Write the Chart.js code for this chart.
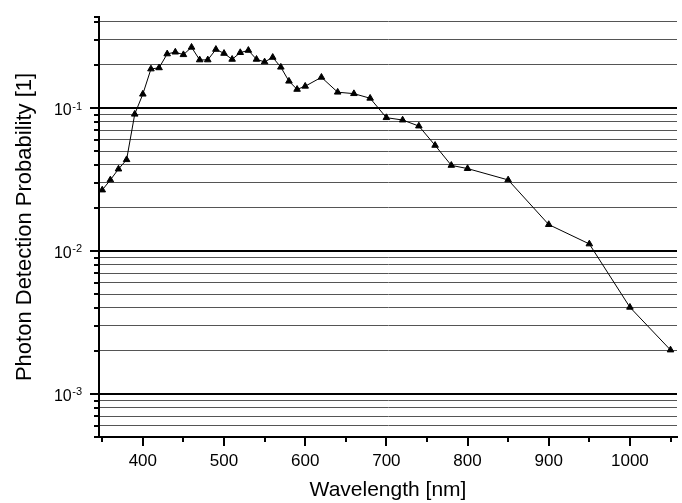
<!DOCTYPE html>
<html>
<head>
<meta charset="utf-8">
<script src="https://cdn.jsdelivr.net/npm/chart.js@4/dist/chart.umd.min.js"></script>
<style>html,body{margin:0;padding:0;background:#fff}canvas{display:block}</style>
</head>
<body>
<canvas id="c" width="682" height="503"></canvas>
<script>
// ---- data ----
const wavelengths = [350,360,370,380,390,400,410,420,430,440,450,460,470,480,490,500,510,520,530,540,550,560,570,580,590,600,620,640,660,680,700,720,740,760,780,800,850,900,950,1000,1050];
const pdp = [0.0267,0.0314,0.0374,0.0435,0.0905,0.125,0.1875,0.191,0.239,0.246,0.236,0.266,0.217,0.217,0.257,0.241,0.219,0.244,0.253,0.219,0.210,0.226,0.193,0.154,0.135,0.142,0.164,0.129,0.126,0.117,0.0856,0.0824,0.0748,0.0548,0.0397,0.0377,0.0314,0.0153,0.0112,0.00404,0.00203];

const xTickValues = [400,500,600,700,800,900,1000];
const xMinorTicks = [350,450,550,650,750,850,950,1050];
const yMajorTicks = [0.001,0.01,0.1];
const yTickBase = '10';
const yTickExponents = ['-3','-2','-1'];
const yMinorTicks = [0.0005,0.0006,0.0007,0.0008,0.0009,
                     0.002,0.003,0.004,0.005,0.006,0.007,0.008,0.009,
                     0.02,0.03,0.04,0.05,0.06,0.07,0.08,0.09,
                     0.2,0.3,0.4];
const xTitle = 'Wavelength [nm]';
const yTitle = 'Photon Detection Probability [1]';

const FONT = "'Liberation Sans', Arial, sans-serif";
const isMajor = v => yMajorTicks.some(m => Math.abs(m - v) / m < 1e-6);

const axisTicks = {
  id: 'axisTicks',
  afterDraw(chart) {
    const ctx = chart.ctx, xs = chart.scales.x, ys = chart.scales.y, ca = chart.chartArea;
    ctx.save();
    ctx.strokeStyle = '#000';
    ctx.lineWidth = 2;
    const seg = (x1, y1, x2, y2) => { ctx.beginPath(); ctx.moveTo(x1, y1); ctx.lineTo(x2, y2); ctx.stroke(); };
    yMajorTicks.forEach(v => { const p = Math.round(ys.getPixelForValue(v)); seg(ca.left - 9, p, ca.left, p); });
    yMinorTicks.forEach(v => { const p = Math.round(ys.getPixelForValue(v)); seg(ca.left - 5, p, ca.left, p); });
    seg(ca.left - 5, ca.top, ca.left, ca.top);
    xTickValues.forEach(v => { const p = Math.round(xs.getPixelForValue(v)); seg(p, ca.bottom, p, ca.bottom + 9); });
    xMinorTicks.forEach(v => { const p = Math.round(xs.getPixelForValue(v)); seg(p, ca.bottom, p, ca.bottom + 5); });
    // y tick labels: 10 with superscript exponent
    ctx.fillStyle = '#000';
    ctx.textBaseline = 'alphabetic';
    const right = ca.left - 17;
    yMajorTicks.forEach((v, i) => {
      const p = ys.getPixelForValue(v);
      ctx.font = "11px " + FONT;
      const ew = ctx.measureText(yTickExponents[i]).width;
      ctx.textAlign = 'right';
      ctx.fillText(yTickExponents[i], right, p + 1.5);
      ctx.font = "16px " + FONT;
      ctx.fillText(yTickBase, right - ew - 0.5, p + 7);
    });
    ctx.restore();
  }
};

new Chart(document.getElementById('c'), {
  type: 'line',
  data: {
    datasets: [{
      data: wavelengths.map((w, i) => ({ x: w, y: pdp[i] })),
      borderColor: '#000',
      borderWidth: 1,
      backgroundColor: '#000',
      pointStyle: 'triangle',
      pointRadius: 3.8,
      pointBorderWidth: 1,
      pointBackgroundColor: '#000',
      pointBorderColor: '#000',
      tension: 0,
      fill: false
    }]
  },
  options: {
    responsive: false,
    animation: false,
    devicePixelRatio: 1,
    layout: { padding: { top: 17, right: 5, bottom: 0, left: 0 } },
    plugins: { legend: { display: false }, tooltip: { enabled: false } },
    scales: {
      x: {
        type: 'linear',
        min: 346, max: 1058,
        afterBuildTicks: s => { s.ticks = xTickValues.map(v => ({ value: v })); },
        afterFit: s => { s.height = 66; },
        grid: { display: false, drawTicks: false },
        border: { display: true, color: '#000', width: 2 },
        ticks: {
          autoSkip: false, maxRotation: 0, padding: 14, color: '#000',
          font: { family: FONT, size: 17 },
          callback: v => String(v)
        },
        title: { display: true, text: xTitle, color: '#000', font: { family: FONT, size: 21 }, padding: { top: 0, bottom: 0 } }
      },
      y: {
        type: 'logarithmic',
        min: 0.0005, max: 0.433,
        afterBuildTicks: s => {
          const all = yMinorTicks.concat(yMajorTicks).sort((a, b) => a - b);
          s.ticks = all.map(v => ({ value: v }));
        },
        afterFit: s => { s.width = 99; },
        grid: {
          drawTicks: false,
          color: c => (c.tick && isMajor(c.tick.value)) ? '#000' : '#555',
          lineWidth: c => (c.tick && isMajor(c.tick.value)) ? 2 : 1
        },
        border: { display: true, color: '#000', width: 2 },
        ticks: { display: false, autoSkip: false },
        title: { display: true, text: yTitle, color: '#000', font: { family: FONT, size: 22 }, padding: { top: 12, bottom: 0 } }
      }
    }
  },
  plugins: [axisTicks]
});
</script>
</body>
</html>
